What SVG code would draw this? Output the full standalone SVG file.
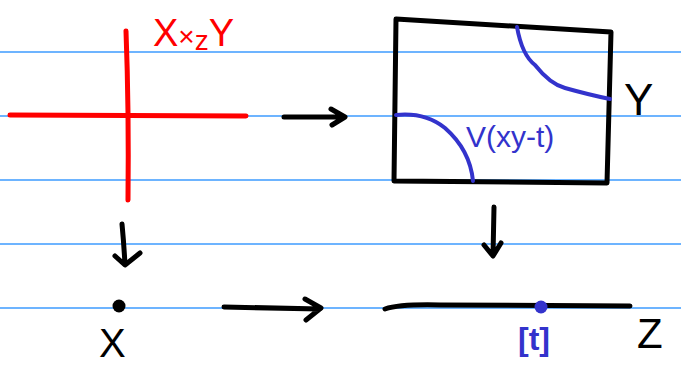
<svg xmlns="http://www.w3.org/2000/svg" width="681" height="367" viewBox="0 0 681 367">
<defs>
<style>
.rule{stroke:#3d9bff;stroke-width:1.5;fill:none}
.ink{stroke:#000;stroke-width:5;fill:none;stroke-linecap:round;stroke-linejoin:round}
.red{stroke:#ff0000;stroke-width:5;fill:none;stroke-linecap:round}
.blue{stroke:#3333cc;stroke-width:4;fill:none;stroke-linecap:round}
.t{font-family:"Liberation Sans",Arial,sans-serif}
</style>
</defs>
<rect width="681" height="367" fill="#fff"/>
<g id="rules">
<line class="rule" x1="0" y1="52" x2="681" y2="52"/>
<line class="rule" x1="0" y1="116" x2="681" y2="116"/>
<line class="rule" x1="0" y1="180" x2="681" y2="180"/>
<line class="rule" x1="0" y1="244" x2="681" y2="244"/>
<line class="rule" x1="0" y1="308" x2="681" y2="308"/>
</g>
<g id="product">
<path class="red" d="M126 31 Q129 110 128 200"/>
<path class="red" d="M10 115 L246 116"/>
<text class="t" x="153" y="46" font-size="38" fill="#ff0000">X<tspan font-size="28">×</tspan><tspan font-size="28" dy="4">z</tspan><tspan dy="-4">Y</tspan></text>
</g>
<g id="box">
<path class="ink" d="M396 19 L611 32 L607 183 L394 181 Z"/>
<path class="blue" d="M517 27 Q522 55 535 65 Q550 84 565 88 Q590 95 610 99"/>
<path class="blue" d="M396 115 Q425 112 445 128 Q470 150 473 181"/>
<text class="t" x="466" y="147" font-size="30" fill="#3333cc">V(xy-t)</text>
<text class="t" x="624" y="115" font-size="44" fill="#000">Y</text>
</g>
<g id="X">
<circle cx="119" cy="306" r="6.5" fill="#000"/>
<text class="t" x="99" y="357" font-size="40" fill="#000">X</text>
</g>
<g id="Z">
<path class="ink" d="M385 309 Q400 304 440 305 L630 306"/>
<circle cx="541" cy="307" r="6.5" fill="#3333cc"/>
<text class="t" x="518" y="350" font-size="32" font-weight="bold" fill="#3333cc">[t]</text>
<text class="t" x="637" y="348" font-size="42" fill="#000">Z</text>
</g>
<g id="connectors">
<path class="ink" d="M284 117 L343 117 M331 109 L345 117 L332 125"/>
<path class="ink" d="M122 224 Q124 245 125 265 M115 256 L125 265 L140 253"/>
<path class="ink" d="M494 207 L493 256 M484 245 L493 256 L501 243"/>
<path class="ink" d="M224 307 Q270 308 320 309 M305 299 L321 308 L306 320"/>
</g>
</svg>
